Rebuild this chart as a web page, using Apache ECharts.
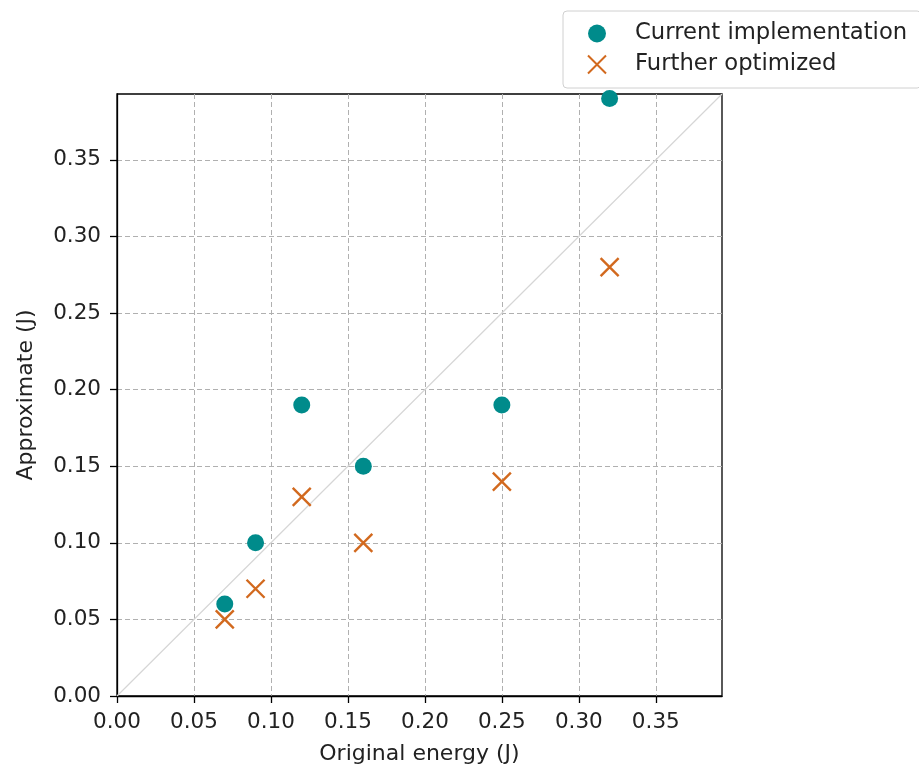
<!DOCTYPE html>
<html><head><meta charset="utf-8">
<script src="https://cdn.jsdelivr.net/npm/echarts@6/dist/echarts.min.js"></script>
<style>html,body{margin:0;padding:0;background:#fff}#c{width:919px;height:771px}</style>
</head><body><div id="c"></div>
<script>
const originalEnergy = [0.07, 0.09, 0.12, 0.16, 0.25, 0.32];
const currentImpl = [0.06, 0.10, 0.19, 0.15, 0.19, 0.39];
const furtherOpt = [0.05, 0.07, 0.13, 0.10, 0.14, 0.28];
const axisMax = 0.393;
const ticks = [0, 0.05, 0.10, 0.15, 0.20, 0.25, 0.30, 0.35];

const crossPath = 'path://M0,0L10,10M10,0L0,10';
const fmt = v => ticks.some(t => Math.abs(t - v) < 1e-6) ? v.toFixed(2) : '';
const font = 'DejaVu Sans';
const chart = echarts.init(document.getElementById('c'), null, {renderer:'canvas'});
const axisCommon = {
  type:'value', min:0, max:axisMax, interval:0.05,
  axisLine:{show:true, onZero:false, lineStyle:{color:'#000', width:1.3}},
  axisTick:{show:true, length:7, lineStyle:{color:'#000', width:1.3}},
  axisLabel:{formatter:fmt, color:'#222', fontSize:21.5, fontFamily:font, showMaxLabel:false, margin:15},
  splitLine:{show:true, showMinLine:false, showMaxLine:false, lineStyle:{color:'#b0b0b0', type:[5,3], width:1}},
  nameLocation:'middle', nameTextStyle:{color:'#222', fontSize:22, fontFamily:font}
};
chart.setOption({
  animation:false,
  grid:{left:117, top:94, width:605, height:602, show:true, borderColor:'#000', borderWidth:1.3, backgroundColor:'transparent'},
  legend:{
    orient:'vertical', left:563, top:11,
    padding:[11,14,12,24], itemGap:8, itemWidth:18, itemHeight:18,
    borderColor:'#d0d0d0', borderWidth:1, borderRadius:4,
    textStyle:{fontSize:22.7, fontFamily:font, color:'#222', padding:[0,0,0,24]},
    data:[{name:'Current implementation', icon:'circle'}, {name:'Further optimized', icon:crossPath}]
  },
  xAxis:Object.assign({}, axisCommon, {name:'Original energy (J)', nameGap:47}),
  yAxis:Object.assign({}, axisCommon, {name:'Approximate (J)', nameGap:80,
    axisLabel:Object.assign({}, axisCommon.axisLabel, {margin:16})}),
  series:[
    {type:'line', data:[[0,0],[axisMax,axisMax]], showSymbol:false, symbol:'none', silent:true,
     lineStyle:{color:'#d6d6d6', width:1.2}, z:1},
    {name:'Current implementation', type:'scatter', symbol:'circle', symbolSize:17,
     itemStyle:{color:'#008b8b', opacity:1},
     data:originalEnergy.map((x,i)=>[x,currentImpl[i]]), z:3},
    {name:'Further optimized', type:'scatter', symbol:crossPath, symbolSize:18,
     itemStyle:{color:'#d2691e', borderColor:'#d2691e', borderWidth:2.4, opacity:1},
     data:originalEnergy.map((x,i)=>[x,furtherOpt[i]]), z:3}
  ]
});
</script></body></html>
